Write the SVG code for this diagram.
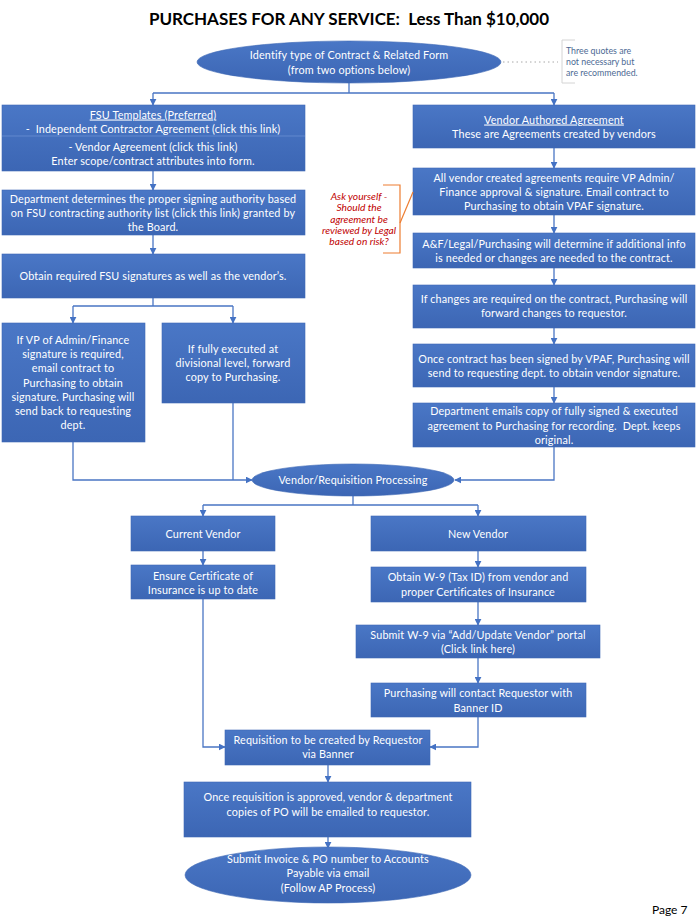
<svg xmlns="http://www.w3.org/2000/svg" width="700" height="924" viewBox="0 0 700 924">
<defs>
<linearGradient id="g" x1="0" y1="0" x2="0" y2="1">
<stop offset="0" stop-color="#4a77c6"/>
<stop offset="1" stop-color="#3c66b4"/>
</linearGradient>
<marker id="a" viewBox="0 0 10 10" refX="9" refY="5" markerWidth="7" markerHeight="7" orient="auto" markerUnits="userSpaceOnUse">
<path d="M0,0 L10,5 L0,10 z" fill="#4472c4"/>
</marker>
<style>
.b{fill:url(#g);stroke:#3f69b6;stroke-width:0.6}
.t{font-family:Lato,"Open Sans","Liberation Sans",sans-serif;font-size:10.8px;letter-spacing:0.15px;fill:#ffffff;text-anchor:middle}
.c{fill:none;stroke:#4a76c4;stroke-width:1.3}
.u{text-decoration:underline}
.r{font-family:Lato,"Liberation Sans",sans-serif;font-size:10.2px;font-style:italic;fill:#c00000;text-anchor:middle}
.q{font-family:Lato,"Liberation Sans",sans-serif;font-size:8.8px;fill:#4d6a94}
</style>
</defs>
<rect width="700" height="924" fill="#ffffff"/>
<text x="349" y="25" xml:space="preserve" font-family="Lato,'Liberation Sans',sans-serif" font-weight="bold" font-size="17" text-anchor="middle" fill="#000000" textLength="400">PURCHASES FOR ANY SERVICE:  Less Than $10,000</text>

<g id="connectors">
<path class="c" d="M349,83 V93 M153,93 H554"/>
<path class="c" d="M153,93 V105" marker-end="url(#a)"/>
<path class="c" d="M554,93 V105" marker-end="url(#a)"/>
<path class="c" d="M153,170 V190" marker-end="url(#a)"/>
<path class="c" d="M153,235 V254" marker-end="url(#a)"/>
<path class="c" d="M153,298 V306 M73,306 H233"/>
<path class="c" d="M73,306 V323" marker-end="url(#a)"/>
<path class="c" d="M233,306 V323" marker-end="url(#a)"/>
<path class="c" d="M554,148 V168" marker-end="url(#a)"/>
<path class="c" d="M554,215 V233" marker-end="url(#a)"/>
<path class="c" d="M554,268 V285" marker-end="url(#a)"/>
<path class="c" d="M554,328 V344" marker-end="url(#a)"/>
<path class="c" d="M554,387 V403" marker-end="url(#a)"/>
<path class="c" d="M73,442 V480 H252" marker-end="url(#a)"/>
<path class="c" d="M233,403 V480"/>
<path class="c" d="M554,447 V480 H455" marker-end="url(#a)"/>
<path class="c" d="M353,496 V505 M203,505 H478"/>
<path class="c" d="M203,505 V516" marker-end="url(#a)"/>
<path class="c" d="M478,505 V516" marker-end="url(#a)"/>
<path class="c" d="M203,551 V565" marker-end="url(#a)"/>
<path class="c" d="M478,551 V567" marker-end="url(#a)"/>
<path class="c" d="M478,602 V625" marker-end="url(#a)"/>
<path class="c" d="M478,658 V683" marker-end="url(#a)"/>
<path class="c" d="M203,599 V747 H225" marker-end="url(#a)"/>
<path class="c" d="M478,717 V747 H430" marker-end="url(#a)"/>
<path class="c" d="M328,765 V782" marker-end="url(#a)"/>
<path class="c" d="M328,837 V848" marker-end="url(#a)"/>
</g>

<g id="start">
<ellipse class="b" cx="349" cy="62" rx="152" ry="21"/>
<text class="t" x="349" y="59">Identify type of Contract &amp; Related Form</text>
<text class="t" x="349" y="74">(from two options below)</text>
</g>

<g id="note-quotes">
<path d="M503,62 H558" stroke="#a8a8a8" stroke-width="1" stroke-dasharray="1.5,3" fill="none"/>
<path d="M575,40 H562 V83 H575" stroke="#d4d4d4" stroke-width="1" fill="none"/>
<text class="q" x="566" y="54">Three quotes are</text>
<text class="q" x="566" y="65">not necessary but</text>
<text class="q" x="566" y="76">are recommended.</text>
</g>

<g id="fsu-templates">
<rect class="b" x="2" y="105" width="303" height="66"/>
<line x1="2" y1="136" x2="305" y2="136" stroke="#6a8fd2" stroke-width="0.8"/>
<text class="t u" x="153" y="118.5">FSU Templates (Preferred)</text>
<text class="t" x="153" y="132.5" xml:space="preserve">-  Independent Contractor Agreement (click this link)</text>
<text class="t" x="153" y="150.5">- Vendor Agreement (click this link)</text>
<text class="t" x="153" y="165">Enter scope/contract attributes into form.</text>
</g>

<g id="signing-authority">
<rect class="b" x="2" y="190" width="303" height="45"/>
<text class="t" x="153" y="202.5">Department determines the proper signing authority based</text>
<text class="t" x="153" y="216.5">on FSU contracting authority list (click this link) granted by</text>
<text class="t" x="153" y="231">the Board.</text>
</g>

<g id="fsu-signatures">
<rect class="b" x="2" y="254" width="303" height="44"/>
<text class="t" x="153" y="279.5">Obtain required FSU signatures as well as the vendor’s.</text>
</g>

<g id="vpaf-required">
<rect class="b" x="2" y="323" width="143" height="119"/>
<text class="t" x="73" y="343.5">If VP of Admin/Finance</text>
<text class="t" x="73" y="357.5">signature is required,</text>
<text class="t" x="73" y="372">email contract to</text>
<text class="t" x="73" y="386.5">Purchasing to obtain</text>
<text class="t" x="73" y="400.5">signature. Purchasing will</text>
<text class="t" x="73" y="414.5">send back to requesting</text>
<text class="t" x="73" y="429">dept.</text>
</g>

<g id="divisional">
<rect class="b" x="162" y="323" width="143" height="80"/>
<text class="t" x="233" y="353">If fully executed at</text>
<text class="t" x="233" y="367">divisional level, forward</text>
<text class="t" x="233" y="381">copy to Purchasing.</text>
</g>

<g id="vendor-authored">
<rect class="b" x="413" y="105" width="282" height="43"/>
<text class="t u" x="554" y="123.5">Vendor Authored Agreement</text>
<text class="t" x="554" y="137.5">These are Agreements created by vendors</text>
</g>

<g id="vpaf-approval">
<rect class="b" x="413" y="168" width="282" height="47"/>
<text class="t" x="554" y="181.5">All vendor created agreements require VP Admin/</text>
<text class="t" x="554" y="195.5">Finance approval &amp; signature. Email contract to</text>
<text class="t" x="554" y="210">Purchasing to obtain VPAF signature.</text>
</g>

<g id="note-legal">
<path d="M383,185 H400 V253 H383" stroke="#ed7d31" stroke-width="1.2" fill="none"/>
<path d="M400,223 L413,192" stroke="#ed7d31" stroke-width="1.2" fill="none"/>
<text class="r" x="359" y="199.5">Ask yourself -</text>
<text class="r" x="359" y="211">Should the</text>
<text class="r" x="359" y="222.5">agreement be</text>
<text class="r" x="359" y="234">reviewed by Legal</text>
<text class="r" x="359" y="245">based on risk?</text>
</g>

<g id="review">
<rect class="b" x="413" y="233" width="282" height="35"/>
<text class="t" x="554" y="247.5">A&amp;F/Legal/Purchasing will determine if additional info</text>
<text class="t" x="554" y="261.5">is needed or changes are needed to the contract.</text>
</g>

<g id="changes">
<rect class="b" x="413" y="285" width="282" height="43"/>
<text class="t" x="554" y="302.5">If changes are required on the contract, Purchasing will</text>
<text class="t" x="554" y="316.5">forward changes to requestor.</text>
</g>

<g id="signed-vpaf">
<rect class="b" x="413" y="344" width="282" height="43"/>
<text class="t" x="554" y="362.5">Once contract has been signed by VPAF, Purchasing will</text>
<text class="t" x="554" y="376.5">send to requesting dept. to obtain vendor signature.</text>
</g>

<g id="recording">
<rect class="b" x="413" y="403" width="282" height="44"/>
<text class="t" x="554" y="414.5">Department emails copy of fully signed &amp; executed</text>
<text class="t" x="554" y="429.5" xml:space="preserve">agreement to Purchasing for recording.  Dept. keeps</text>
<text class="t" x="554" y="443.5">original.</text>
</g>

<g id="vendor-requisition">
<ellipse class="b" cx="353" cy="480" rx="101" ry="16"/>
<text class="t" x="353" y="483.5">Vendor/Requisition Processing</text>
</g>

<g id="current-vendor">
<rect class="b" x="131" y="516" width="144" height="35"/>
<text class="t" x="203" y="537.5">Current Vendor</text>
</g>

<g id="insurance">
<rect class="b" x="131" y="565" width="144" height="34"/>
<text class="t" x="203" y="579.5">Ensure Certificate of</text>
<text class="t" x="203" y="593.5">Insurance is up to date</text>
</g>

<g id="new-vendor">
<rect class="b" x="371" y="516" width="215" height="35"/>
<text class="t" x="478" y="537.5">New Vendor</text>
</g>

<g id="w9">
<rect class="b" x="371" y="567" width="215" height="35"/>
<text class="t" x="478" y="580.5">Obtain W-9 (Tax ID) from vendor and</text>
<text class="t" x="478" y="595.5">proper Certificates of Insurance</text>
</g>

<g id="submit-w9">
<rect class="b" x="356" y="625" width="244" height="33"/>
<text class="t" x="478" y="638.5">Submit W-9 via “Add/Update Vendor” portal</text>
<text class="t" x="478" y="652.5">(Click link here)</text>
</g>

<g id="banner-id">
<rect class="b" x="371" y="683" width="215" height="34"/>
<text class="t" x="478" y="696.5">Purchasing will contact Requestor with</text>
<text class="t" x="478" y="711.5">Banner ID</text>
</g>

<g id="requisition">
<rect class="b" x="225" y="730" width="205" height="35"/>
<text class="t" x="328" y="743.5">Requisition to be created by Requestor</text>
<text class="t" x="328" y="757.5">via Banner</text>
</g>

<g id="po">
<rect class="b" x="184" y="782" width="287" height="55"/>
<text class="t" x="328" y="800.5">Once requisition is approved, vendor &amp; department</text>
<text class="t" x="328" y="815.5">copies of PO will be emailed to requestor.</text>
</g>

<g id="invoice">
<ellipse class="b" cx="328" cy="875" rx="143" ry="28"/>
<text class="t" x="328" y="862.5">Submit Invoice &amp; PO number to Accounts</text>
<text class="t" x="328" y="876.5">Payable via email</text>
<text class="t" x="328" y="891.5">(Follow AP Process)</text>
</g>

<text x="652" y="914" font-family="Lato,'Liberation Sans',sans-serif" font-size="12" fill="#000000">Page 7</text>
</svg>
